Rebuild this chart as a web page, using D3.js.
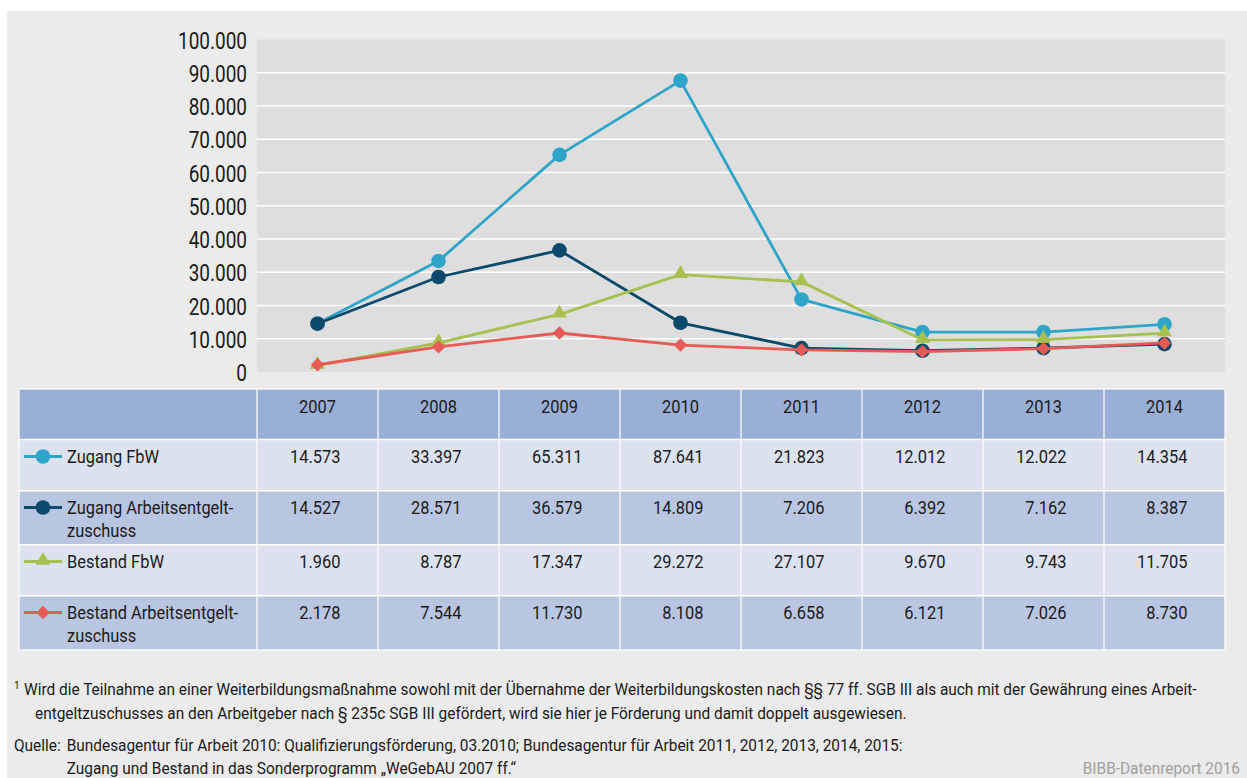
<!DOCTYPE html>
<html>
<head>
<meta charset="utf-8">
<script src="https://cdn.jsdelivr.net/npm/d3@7"></script>
<style>
  html, body { margin: 0; padding: 0; background: #ffffff; }
  svg { display: block; }
  text { font-family: Roboto, "Liberation Sans", sans-serif; }
</style>
</head>
<body>
<svg id="chart" width="1247" height="778"></svg>
<script>
// ---- data ----
const years = ["2007", "2008", "2009", "2010", "2011", "2012", "2013", "2014"];
const seriesNames = ["Zugang FbW", "Zugang Arbeitsentgelt-\nzuschuss", "Bestand FbW", "Bestand Arbeitsentgelt-\nzuschuss"];
const zugangFbW = [14573, 33397, 65311, 87641, 21823, 12012, 12022, 14354];
const zugangAEZ = [14527, 28571, 36579, 14809, 7206, 6392, 7162, 8387];
const bestandFbW = [1960, 8787, 17347, 29272, 27107, 9670, 9743, 11705];
const bestandAEZ = [2178, 7544, 11730, 8108, 6658, 6121, 7026, 8730];
const yTicks = [0, 10000, 20000, 30000, 40000, 50000, 60000, 70000, 80000, 90000, 100000];
const seriesColors = ["#2fa4c9", "#0b4a6a", "#a6c150", "#e65b55"];
const seriesMarkers = ["circle", "circle", "triangle", "diamond"];
const footnote1 = ["Wird die Teilnahme an einer Weiterbildungsmaßnahme sowohl mit der Übernahme der Weiterbildungskosten nach §§ 77 ff. SGB III als auch mit der Gewährung eines Arbeit-",
                   "entgeltzuschusses an den Arbeitgeber nach § 235c SGB III gefördert, wird sie hier je Förderung und damit doppelt ausgewiesen."];
const sourceLabel = "Quelle:";
const sourceLines = ["Bundesagentur für Arbeit 2010: Qualifizierungsförderung, 03.2010; Bundesagentur für Arbeit 2011, 2012, 2013, 2014, 2015:",
                     "Zugang und Bestand in das Sonderprogramm „WeGebAU 2007 ff.“"];
const credit = "BIBB-Datenreport 2016";

const seriesValues = [zugangFbW, zugangAEZ, bestandFbW, bestandAEZ];
const series = seriesNames.map((n, i) => ({ name: n, values: seriesValues[i], color: seriesColors[i], marker: seriesMarkers[i] }));

const svg = d3.select("#chart");
const fmt = d3.formatLocale({ decimal: ",", thousands: ".", grouping: [3], currency: ["", "€"] }).format(",d");
const FONT = "Roboto, 'Liberation Sans', sans-serif";

function measure(str, size) {
  const t = svg.append("text").attr("font-size", size).attr("font-family", FONT).text(str);
  const w = t.node().getComputedTextLength();
  t.remove();
  return w;
}
function ctext(parent, x, y, str, size, sx, anchor, fill) {
  return parent.append("text")
    .attr("transform", `translate(${x},${y}) scale(${sx},1)`)
    .attr("font-size", size).attr("font-family", FONT)
    .attr("text-anchor", anchor || "start").attr("fill", fill || "#1a1a1a")
    .text(str);
}

// condensing factors (reference font is a condensed face)
const sxY = 69 / measure(fmt(100000), 23);
const sxT = 50.5 / measure(fmt(14573), 18);
const sxF = 1173 / measure(footnote1[0], 17);

// background
svg.append("rect").attr("x", 7).attr("y", 11).attr("width", 1240).attr("height", 767).attr("fill", "#ebebeb");

// scales
const x = d3.scaleBand().domain(years).range([257, 1225]).paddingInner(0).paddingOuter(0);
const cx = d => x(d) + x.bandwidth() / 2;
const y = d3.scaleLinear().domain([0, 100000]).range([372, 39.5]);

// plot area
svg.append("rect").attr("x", 257).attr("y", y(100000)).attr("width", 1225 - 257).attr("height", y(0) - y(100000)).attr("fill", "#dedede");

// gridlines
svg.append("g").selectAll("line").data(yTicks.filter(t => t > 0 && t < 100000)).join("line")
  .attr("x1", 257).attr("x2", 1225).attr("y1", d => y(d)).attr("y2", d => y(d))
  .attr("stroke", "#ffffff").attr("stroke-width", 1.5);

// y axis labels
const yg = svg.append("g");
yTicks.forEach(t => ctext(yg, 247, y(t) + 9, fmt(t), 23, sxY, "end"));

// lines & markers
const line = d3.line().x((d, i) => cx(years[i])).y(d => y(d));
const sym = {
  circle: d3.symbol().type(d3.symbolCircle).size(Math.PI * 7.3 * 7.3),
  triangle: d3.symbol().type(d3.symbolTriangle).size(95),
  diamond: d3.symbol().type(d3.symbolSquare).size(2 * 6.7 * 6.7)
};
function markerPath(m) { return sym[m](); }
function markerTf(m) { return (m === "diamond" ? " rotate(45)" : "") + (m === "triangle" ? " translate(0,-1)" : ""); }

series.forEach(s => {
  const g = svg.append("g");
  g.append("path").datum(s.values).attr("d", line).attr("fill", "none")
    .attr("stroke", s.color).attr("stroke-width", 2.8).attr("stroke-linejoin", "round");
  g.selectAll("path.m").data(s.values).join("path").attr("class", "m")
    .attr("d", markerPath(s.marker))
    .attr("transform", (d, i) => `translate(${cx(years[i])},${y(d)})` + markerTf(s.marker))
    .attr("fill", s.color);
});

// table
const tableX0 = 19;
const headerY = 389, headerH = 50;
const rowY = [440, 491, 545, 596];
const rowH = [50.5, 53.5, 51, 54];
const rowFill = ["#dce2f0", "#b9c6e2", "#dce2f0", "#b9c6e2"];
const tg = svg.append("g");
tg.append("rect").attr("x", tableX0).attr("y", headerY).attr("width", 1225 - tableX0).attr("height", headerH).attr("fill", "#9aafd6");
series.forEach((s, i) => {
  tg.append("rect").attr("x", tableX0).attr("y", rowY[i]).attr("width", 1225 - tableX0).attr("height", rowH[i]).attr("fill", rowFill[i]);
});
const vx = [257].concat(years.map(yr => x(yr) + x.bandwidth())).slice(0, 8);
tg.selectAll("line.v").data(vx).join("line").attr("class", "v")
  .attr("x1", d => d).attr("x2", d => d).attr("y1", headerY).attr("y2", rowY[3] + rowH[3])
  .attr("stroke", "#ffffff").attr("stroke-width", 1.2);
tg.selectAll("line.h").data([headerY + headerH + 0.5, rowY[1] - 0.3, rowY[2] - 0.3, rowY[3] - 0.3]).join("line").attr("class", "h")
  .attr("x1", tableX0).attr("x2", 1225).attr("y1", d => d).attr("y2", d => d)
  .attr("stroke", "#ffffff").attr("stroke-width", 1.5);
tg.append("rect").attr("x", tableX0).attr("y", headerY).attr("width", 1225 - tableX0).attr("height", rowY[3] + rowH[3] - headerY)
  .attr("fill", "none").attr("stroke", "#ffffff").attr("stroke-width", 1.2);

// header labels
years.forEach(yr => ctext(tg, cx(yr), 412.5, yr, 18, sxT, "middle"));

// rows content
series.forEach((s, i) => {
  const base = rowY[i] + 22.5;
  tg.append("line").attr("x1", 24).attr("x2", 62).attr("y1", base - 6).attr("y2", base - 6)
    .attr("stroke", s.color).attr("stroke-width", 2.8);
  tg.append("path").attr("d", markerPath(s.marker))
    .attr("transform", `translate(43,${base - 6})` + markerTf(s.marker))
    .attr("fill", s.color);
  s.name.split("\n").forEach((ln, k) => ctext(tg, 67, base + k * 23.5, ln, 18, sxT, "start"));
  s.values.forEach((v, j) => ctext(tg, cx(years[j]) + 23, base, fmt(v), 18, sxT, "end"));
});

// footnotes
const fg = svg.append("g");
ctext(fg, 14, 689, "1", 11, sxF, "start");
ctext(fg, 24, 695, footnote1[0], 17, sxF, "start");
ctext(fg, 35, 719, footnote1[1], 17, sxF, "start");
ctext(fg, 14, 751, sourceLabel, 17, sxF, "start");
const srcX = 14 + measure(sourceLabel, 17) * sxF + 6;
ctext(fg, srcX, 751, sourceLines[0], 17, sxF, "start");
ctext(fg, srcX, 774, sourceLines[1], 17, sxF, "start");
ctext(svg, 1240, 774, credit, 17, sxF, "end", "#a0a0a0");
</script>
</body>
</html>
